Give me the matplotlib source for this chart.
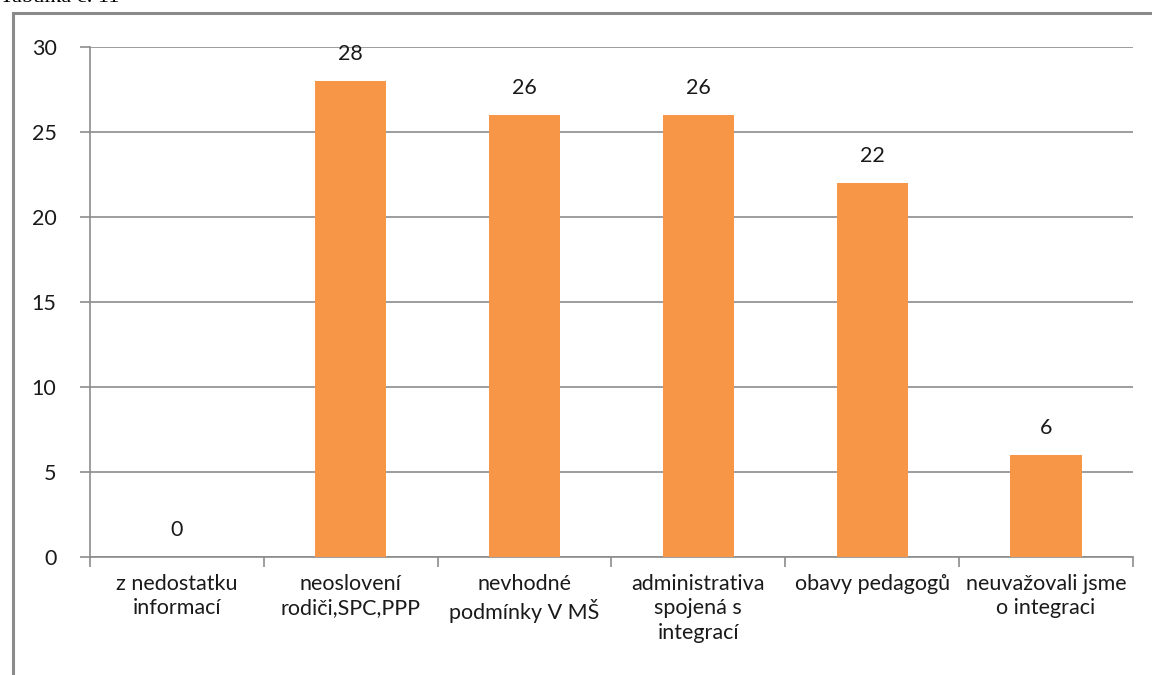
import matplotlib
matplotlib.use("Agg")
import matplotlib.pyplot as plt
from matplotlib.patches import Rectangle

# Data
categories = ["z nedostatku\ninformací", "neoslovení\nrodiči,SPC,PPP", "nevhodné\npodmínky V MŠ",
              "administrativa\nspojená s\nintegrací", "obavy pedagogů", "neuvažovali jsme\no integraci"]
values = [0, 28, 26, 26, 22, 6]
yticks = [0, 5, 10, 15, 20, 25, 30]

plt.rcParams['font.family'] = ['Lato', 'DejaVu Sans']

fig = plt.figure(figsize=(11.52, 6.75), dpi=100)
ax = fig.add_axes([0.078, 0.175, 0.9055, 0.755])

grid_c = "#8c8c8c"
txt_c = "#1a1a1a"
fs = 15.5
x = list(range(len(categories)))
ax.bar(x, values, width=0.41, color="#f79646", zorder=3)
for xi, v in zip(x, values):
    ax.text(xi, v + 1.0, str(v), ha="center", va="bottom", fontsize=fs, color=txt_c)

ax.set_xlim(-0.5, len(categories) - 0.5)
ax.set_ylim(0, 30)
ax.set_yticks(yticks)
ax.set_yticklabels([str(t) for t in yticks], fontsize=fs, color=txt_c)
ax.yaxis.grid(True, color=grid_c, linewidth=1.2, zorder=0)

# category ticks between bars
ax.set_xticks([i + 0.5 for i in range(-1, len(categories))], minor=False)
ax.set_xticklabels([])
ax.set_xticks(x, minor=True)
ax.set_xticklabels(categories, minor=True, fontsize=fs, color=txt_c, linespacing=1.28)
ax.tick_params(axis="x", which="major", length=7, color=grid_c, width=1.2)
ax.tick_params(axis="x", which="minor", length=0, pad=12)
ax.tick_params(axis="y", length=7, color=grid_c, width=1.2, pad=17)

for s in ["top", "right"]:
    ax.spines[s].set_visible(False)
for s in ["left", "bottom"]:
    ax.spines[s].set_color(grid_c)
    ax.spines[s].set_linewidth(1.2)

# outer frame of the chart object
fig.patches.append(Rectangle((13 / 1152, -0.1), 1.2, 1 - 13 / 675 + 0.1, transform=fig.transFigure,
                             fill=False, edgecolor="#8a8a8a", linewidth=2.2))

fig.text(0.0, 1.0 + 0.004, "Tabulka č. 11", family="Liberation Serif", fontsize=16,
         ha="left", va="center", color="black")

fig.savefig("out.png", dpi=100)
